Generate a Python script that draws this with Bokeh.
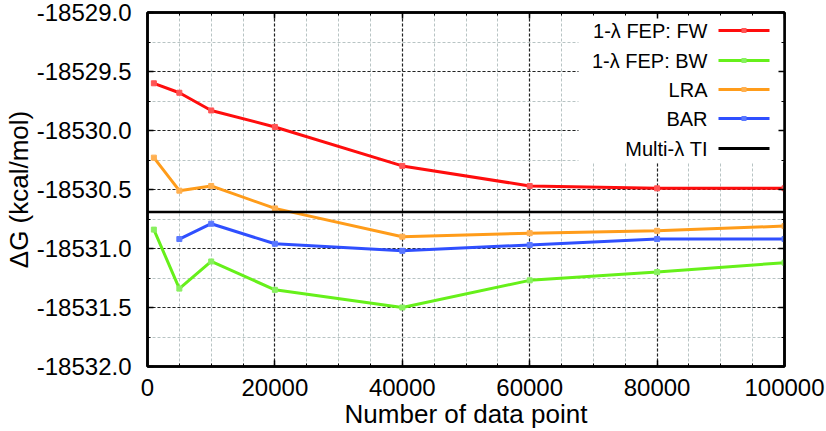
from bokeh.plotting import figure
from bokeh.models import (SingleIntervalTicker, PrintfTickFormatter, LinearAxis, Span,
                          BoxAnnotation, Label, Range1d, CustomJSTickFormatter)
from bokeh.embed import file_html
from bokeh.resources import INLINE

# ---- data ----
n_points = [1000, 5000, 10000, 20000, 40000, 60000, 80000, 100000]
fep_fw = [-18529.60, -18529.68, -18529.83, -18529.97, -18530.30, -18530.47, -18530.49, -18530.49]
fep_bw = [-18530.84, -18531.34, -18531.11, -18531.35, -18531.50, -18531.27, -18531.20, -18531.12]
lra = [-18530.23, -18530.51, -18530.47, -18530.66, -18530.90, -18530.87, -18530.85, -18530.81]
bar_x = [5000, 10000, 20000, 40000, 60000, 80000, 100000]
bar = [-18530.92, -18530.79, -18530.96, -18531.02, -18530.97, -18530.92, -18530.92]
ti_value = -18530.69

labels = ["1-\u03bb FEP: FW", "1-\u03bb FEP: BW", "LRA", "BAR", "Multi-\u03bb TI"]
colors = ["#ff0d0d", "#66f01a", "#ff9c1a", "#2f4fff", "#000000"]
marker_colors = ["#ff5555", "#88f060", "#ffb050", "#5a78ff", "#000000"]

FONT = "Liberation Sans"

p = figure(width=826, height=431, output_backend="svg", toolbar_location=None,
           x_range=Range1d(0, 100000), y_range=Range1d(-18532.0, -18529.0),
           min_border_left=145, min_border_right=42, min_border_top=12, min_border_bottom=65)
p.background_fill_color = "white"
p.border_fill_color = "white"
p.outline_line_color = "black"
p.outline_line_width = 2.5

xt = SingleIntervalTicker(interval=20000, num_minor_ticks=4)
yt = SingleIntervalTicker(interval=0.5, num_minor_ticks=2)

p.xaxis.ticker = xt
p.yaxis.ticker = yt
p.xaxis.formatter = PrintfTickFormatter(format="%d")
p.yaxis.formatter = PrintfTickFormatter(format="%.1f")

for ax in (p.xaxis[0], p.yaxis[0]):
    ax.axis_line_color = "black"
    ax.axis_line_width = 2.5
    ax.major_tick_in = 6
    ax.major_tick_out = 0
    ax.minor_tick_in = 3
    ax.minor_tick_out = 0
    ax.major_tick_line_width = 1.5
    ax.major_label_text_font = FONT
    ax.major_label_text_font_size = "24px"
    ax.major_label_text_color = "black"
    ax.axis_label_text_font = FONT
    ax.axis_label_text_font_size = "26px"
    ax.axis_label_text_font_style = "normal"
    ax.axis_label_text_color = "black"

p.xaxis.axis_label = "Number of data point"
p.yaxis.axis_label = "\u0394G (kcal/mol)"
p.xaxis.major_label_standoff = 12
p.yaxis.major_label_standoff = 16
p.xaxis.axis_label_standoff = 0
p.yaxis.axis_label_standoff = 0

# mirrored tick axes (no labels)
blank = CustomJSTickFormatter(code="return ''")
for loc, tk in (("right", yt), ("above", xt)):
    ax = LinearAxis(ticker=tk, formatter=blank, major_label_standoff=0,
                    major_label_text_font_size="2px",
                    axis_line_color="black", axis_line_width=2.5,
                    major_tick_in=6, major_tick_out=0, minor_tick_in=3, minor_tick_out=0,
                    major_tick_line_width=1.5)
    p.add_layout(ax, loc)

# grids
p.xgrid.ticker = xt
p.ygrid.ticker = yt
for g in (p.xgrid[0], p.ygrid[0]):
    g.grid_line_color = "#222222"
    g.grid_line_dash = "3 2"
    g.grid_line_width = 1.2
    g.minor_grid_line_color = "#b8c4c4"
    g.minor_grid_line_dash = "3 2"
    g.minor_grid_line_width = 1

# series
series = [(n_points, fep_fw), (n_points, fep_bw), (n_points, lra), (bar_x, bar)]
for (xs, ys), c, mc in zip(series, colors[:4], marker_colors[:4]):
    p.line(xs, ys, line_color=c, line_width=3)
    p.scatter(xs, ys, marker="square", size=5, fill_color=mc, line_color=mc)

p.add_layout(Span(location=ti_value, dimension="width", line_color="black", line_width=2.5))

# custom legend (text left, sample right) in screen units relative to frame
p.add_layout(BoxAnnotation(left=431, right=637, bottom=204, top=352,
                           left_units="screen", right_units="screen",
                           bottom_units="screen", top_units="screen",
                           fill_color="white", fill_alpha=1.0, line_color=None, level="underlay"))
row_y = [336, 306, 277, 248, 218]
for lab, c, mc, yy in zip(labels, colors, marker_colors, row_y):
    p.add_layout(Label(x=560, y=yy, x_units="screen", y_units="screen", text=lab,
                       text_align="right", text_baseline="middle", text_font=FONT,
                       text_font_size="20px", text_color="black"))
    p.add_layout(BoxAnnotation(left=571, right=622, bottom=yy - 1.5, top=yy + 1.5,
                               left_units="screen", right_units="screen",
                               bottom_units="screen", top_units="screen",
                               fill_color=c, fill_alpha=1.0, line_color=None))
    if lab != labels[-1]:
        p.add_layout(BoxAnnotation(left=594, right=599, bottom=yy - 2.5, top=yy + 2.5,
                                   left_units="screen", right_units="screen",
                                   bottom_units="screen", top_units="screen",
                                   fill_color=mc, fill_alpha=1.0, line_color=None))

open("out.html", "w").write(file_html(p, INLINE))
